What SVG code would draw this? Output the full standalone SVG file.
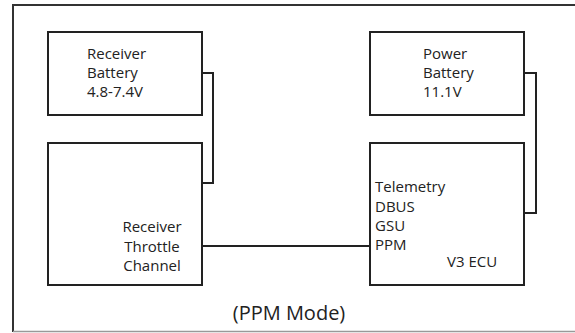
<svg xmlns="http://www.w3.org/2000/svg" width="575" height="333" viewBox="0 0 575 333">
<style>
.box{fill:#fff;stroke:#222;stroke-width:2}
.wire{fill:none;stroke:#222;stroke-width:2}
text{font-family:"Open Sans","DejaVu Sans",sans-serif;font-size:15px;fill:#222}
.mode{font-size:20px}
</style>
<rect width="575" height="333" fill="#fff"/>
<g id="frame">
<path d="M575 5 H13 V332" fill="none" stroke="#333" stroke-width="2"/>
<path d="M13 331.5 H575" fill="none" stroke="#999" stroke-width="1.5"/>
</g>
<g id="connectors">
<path class="wire" d="M202 73 H213 V183 H202"/>
<path class="wire" d="M524 73 H536 V213 H524"/>
<path class="wire" d="M202 246 H371"/>
</g>
<g id="receiver-battery">
<rect class="box" x="48" y="32" width="154" height="83"/>
<text x="87" y="59">Receiver</text>
<text x="87" y="78">Battery</text>
<text x="87" y="97">4.8-7.4V</text>
</g>
<g id="receiver">
<rect class="box" x="48" y="143" width="154" height="142"/>
<text x="152" y="232" text-anchor="middle">Receiver</text>
<text x="152" y="252" text-anchor="middle">Throttle</text>
<text x="152" y="271" text-anchor="middle">Channel</text>
</g>
<g id="power-battery">
<rect class="box" x="370" y="32" width="154" height="83"/>
<text x="423" y="59">Power</text>
<text x="423" y="78">Battery</text>
<text x="423" y="97">11.1V</text>
</g>
<g id="ecu">
<rect class="box" x="370" y="143" width="154" height="142"/>
<text x="375" y="192">Telemetry</text>
<text x="375" y="212">DBUS</text>
<text x="375" y="231">GSU</text>
<text x="375" y="250">PPM</text>
<text x="447" y="267">V3 ECU</text>
</g>
<text class="mode" x="289" y="320" text-anchor="middle">(PPM Mode)</text>
</svg>
